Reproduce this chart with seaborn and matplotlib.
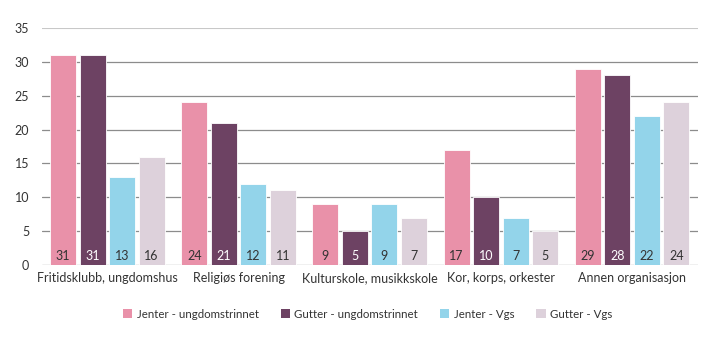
import matplotlib
matplotlib.use("Agg")
import matplotlib.pyplot as plt
import seaborn as sns
import pandas as pd

categories = ["Fritidsklubb, ungdomshus", "Religiøs forening", "Kulturskole, musikkskole",
              "Kor, korps, orkester", "Annen organisasjon"]
series = ["Jenter - ungdomstrinnet", "Gutter - ungdomstrinnet", "Jenter - Vgs", "Gutter - Vgs"]
jenter_ungdom = [31, 24, 9, 17, 29]
gutter_ungdom = [31, 21, 5, 10, 28]
jenter_vgs = [13, 12, 9, 7, 22]
gutter_vgs = [16, 11, 7, 5, 24]
colors = ["#E991A9", "#6D4263", "#93D4EA", "#DDD1DB"]
label_colors = ["#333333", "#FFFFFF", "#333333", "#333333"]

values = [jenter_ungdom, gutter_ungdom, jenter_vgs, gutter_vgs]
rows = []
for s, vals in zip(series, values):
    for c, v in zip(categories, vals):
        rows.append({"Kategori": c, "Gruppe": s, "Verdi": v})
df = pd.DataFrame(rows)

sns.set_theme(style="white")
plt.rcParams["font.family"] = ["Lato", "DejaVu Sans"]

fig = plt.figure(figsize=(7.2, 3.41), dpi=100)
ax = fig.add_axes([0.058, 0.223, 0.911, 0.695])

sns.barplot(data=df, x="Kategori", y="Verdi", hue="Gruppe", order=categories,
            hue_order=series, palette=colors, width=0.9, gap=0.12,
            saturation=1, ax=ax, legend=True, errorbar=None,
            edgecolor="white", linewidth=0.6)

for cont in ax.containers:
    for b in cont:
        b.set_zorder(3)

for cont, lc in zip(ax.containers, label_colors):
    for b in cont:
        ax.annotate(f"{int(round(b.get_height()))}",
                    xy=(b.get_x() + b.get_width() / 2, 0), xytext=(0, 2.0),
                    textcoords="offset points", ha="center", va="bottom",
                    fontsize=9, color=lc, zorder=4)

ax.set_ylim(0, 35)
ax.set_xlim(-0.5, 4.5)
ax.set_yticks(range(0, 36, 5))
ax.set_axisbelow(True)
ax.yaxis.grid(True, color="#8C8C8C", linewidth=0.9, zorder=0)
gl = ax.get_ygridlines()
gl[-1].set_color("#C8C8C8")
gl[-1].set_linewidth(1.5)
for sp in ax.spines.values():
    sp.set_visible(False)
ax.tick_params(axis="both", length=0, labelsize=9, colors="#333333")
ax.tick_params(axis="y", pad=9)
ax.tick_params(axis="x", pad=5)
ax.set_xlabel("")
ax.set_ylabel("")

leg = ax.legend(loc="upper center", bbox_to_anchor=(0.497, -0.14), ncol=4, frameon=False,
                fontsize=8.3, handlelength=0.8, handleheight=0.8, handletextpad=0.4,
                columnspacing=1.9, labelcolor="#333333")
for h in leg.legend_handles:
    h.set_linewidth(0)

fig.savefig("out.png", dpi=100)
